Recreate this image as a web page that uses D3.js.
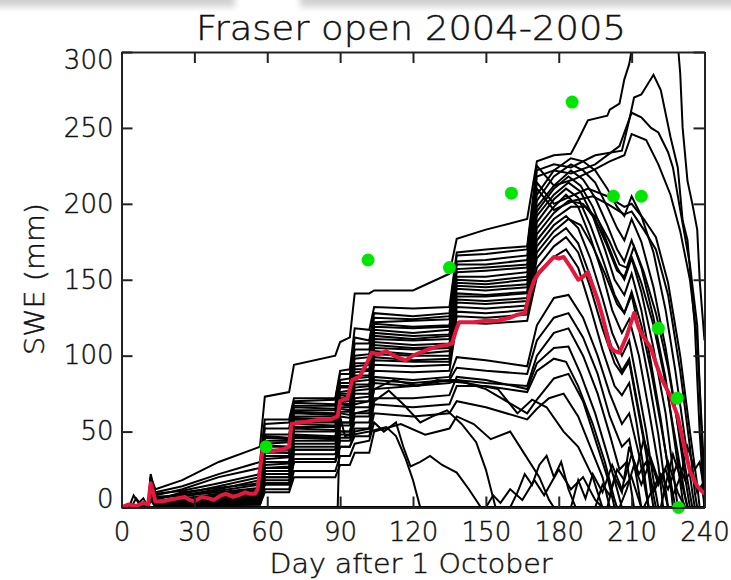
<!DOCTYPE html>
<html><head><meta charset="utf-8">
<script src="https://cdn.jsdelivr.net/npm/d3@7"></script>
<style>body{margin:0;background:#fff}</style>
</head><body>
<svg id="c" width="731" height="580"></svg>
<script>
// ---------- data ----------
const titleText = "Fraser open 2004-2005";
const xLabel = "Day after 1 October";
const yLabel = "SWE (mm)";
const xTicks = [0, 30, 60, 90, 120, 150, 180, 210, 240];
const yTicks = [0, 50, 100, 150, 200, 250, 300];

// days at which accumulation-phase levels of ensemble members are read
const accDays = [0, 11, 12, 14, 25, 40, 57, 59, 69, 71, 88, 90, 94, 96, 102, 104, 120, 135, 138, 150, 167, 171];

// main (high) ensemble members: levels at accDays
const bandAcc = [
  [0,0,20,12,18,30,40,73,76,94,100,109,112,141,141,143,143,154,177,183,190,228],
  [0,0,18,10,14,22,30,58,58,72,72,90,91,118,117,132,131,132,168,170,172,225],
  [0,0,16,8,12,20,26,55,56,70,71,88,88,112,110,128,126,128,166,167,170,222],
  [0,0,22,9,11,16,22,52,52,69,68,84,85,108,108,125,124,126,162,163,166,218],
  [0,0,15,6,9,14,20,48,48,67,67,82,82,104,104,122,123,124,160,160,163,214],
  [0,0,17,7,8,12,18,47,46,66,65,80,80,100,101,121,119,120,157,158,160,210],
  [0,0,19,5,10,13,16,46,45,64,64,79,79,98,99,119,118,119,155,156,158,206],
  [0,0,14,4,7,11,15,44,44,63,62,76,77,95,95,117,115,117,152,152,155,202],
  [0,0,20,6,8,10,13,42,43,62,61,75,75,93,94,115,113,114,150,149,152,198],
  [0,0,13,3,6,9,12,41,40,60,60,74,73,91,91,113,111,113,148,147,150,195],
  [0,0,18,4,5,8,11,40,40,59,58,72,72,89,90,111,110,111,146,145,147,192],
  [0,0,12,3,6,7,10,38,38,58,57,70,70,87,87,109,107,108,144,143,145,188],
  [0,0,16,2,4,6,9,37,36,56,56,69,68,85,86,107,105,106,141,140,142,184],
  [0,0,15,4,5,7,9,36,36,55,54,68,67,83,84,105,104,105,139,139,141,180],
  [0,0,14,3,5,6,8,34,34,53,53,66,66,81,81,103,101,103,137,136,138,176],
  [0,0,17,2,4,5,7,32,33,52,51,65,64,79,80,101,100,100,135,134,136,172],
  [0,0,11,2,3,5,6,30,30,50,50,63,63,77,78,99,97,98,132,131,133,168],
  [0,0,15,3,4,4,6,28,29,48,47,62,61,75,75,97,96,96,129,128,130,164],
  [0,0,13,1,3,4,5,26,27,47,46,60,59,72,73,94,93,94,126,125,127,158],
  [0,0,12,1,2,3,4,24,24,46,45,56,56,70,70,90,89,90,122,121,123,152]
];
// their spring (melt) phase, [day, SWE]
const bandMelt = [
  [[178,232],[185,233],[188,242],[192,255],[200,258],[201,262],[205,266],[207,282],[209,292],[211,310],[215,325],[228,325],[230,286],[231,250],[233,215],[235,200],[237,183],[238,150],[240,110]],
  [[178,212],[186,216],[194,222],[201,228],[207,232],[210,246],[216,242],[221,226],[226,206],[230,182],[234,150],[237,110],[239,50],[240,20]],
  [[178,226],[185,224],[195,232],[206,235],[209,255],[211,270],[214,272],[219,285],[222,275],[226,244],[229,224],[231,189],[233,176],[236,120],[238,50],[240,0]],
  [[178,222],[185,220],[195,226],[205,238],[210,260],[214,257],[218,250],[221,247],[225,234],[227,224],[230,196],[234,160],[237,120],[239,40],[240,0]],
  [[178,200],[185,205],[192,210],[200,205],[207,198],[210,200],[215,190],[220,178],[225,148],[230,100],[234,50],[237,15],[238,0]],
  [[178,196],[186,202],[194,205],[200,200],[207,193],[210,195],[215,183],[220,170],[225,140],[230,90],[234,40],[236,10],[237,0]],
  [[178,222],[185,230],[190,228],[195,222],[200,210],[204,198],[207,192],[210,205],[214,192],[219,168],[224,130],[228,90],[232,45],[235,10],[236,0]],
  [[178,218],[185,226],[190,222],[195,214],[200,198],[204,184],[207,176],[210,190],[214,175],[219,145],[224,105],[228,65],[232,20],[234,0]],
  [[178,212],[185,222],[190,216],[195,204],[200,186],[204,170],[207,162],[210,176],[214,158],[219,125],[224,85],[228,40],[231,5],[232,0]],
  [[178,210],[184,218],[189,212],[194,198],[199,178],[204,158],[207,150],[210,164],[214,142],[219,105],[224,62],[227,25],[229,0]],
  [[178,206],[184,214],[189,208],[194,192],[199,170],[203,150],[207,140],[210,154],[214,130],[218,95],[222,58],[226,15],[227,0]],
  [[178,203],[183,210],[188,204],[193,186],[198,164],[203,140],[207,128],[210,140],[213,118],[217,85],[221,48],[224,12],[225,0]],
  [[178,198],[183,206],[188,198],[193,178],[198,154],[202,130],[206,115],[209,124],[213,100],[217,65],[221,28],[223,0]],
  [[178,194],[184,202],[190,200],[195,190],[200,172],[204,156],[207,152],[210,165],[214,148],[219,120],[224,82],[228,45],[232,8],[233,0]],
  [[178,190],[185,198],[191,198],[196,190],[201,175],[205,160],[208,158],[211,172],[215,155],[220,128],[225,92],[229,55],[233,18],[235,0]],
  [[178,186],[183,192],[188,184],[193,164],[198,138],[202,115],[206,100],[209,110],[212,85],[216,50],[219,18],[221,0]],
  [[178,182],[184,190],[189,186],[194,172],[199,154],[204,134],[207,128],[210,142],[214,120],[218,90],[222,55],[226,18],[228,0]],
  [[178,178],[183,184],[188,174],[193,152],[198,126],[202,104],[206,90],[209,98],[212,72],[216,38],[219,8],[220,0]],
  [[178,172],[183,178],[188,168],[193,145],[198,118],[203,95],[206,88],[209,96],[212,70],[216,35],[218,10],[219,0]],
  [[178,165],[183,170],[188,158],[193,132],[198,104],[203,80],[206,74],[209,82],[212,56],[215,25],[217,0]]
];

// lower ensemble members: levels at accDays
const lowAcc = [
  [0,0,14,3,4,5,6,26,26,44,44,56,56,68,70,86,84,86,99,97,93,120],
  [0,0,12,2,3,4,5,24,24,42,42,54,54,66,66,84,82,84,92,90,88,110],
  [0,0,13,2,3,3,4,22,22,40,40,50,50,62,64,82,80,82,84,82,80,100],
  [0,0,11,1,2,3,3,20,20,38,38,48,48,60,60,78,80,84,84,78,62,71],
  [0,0,12,1,2,2,3,18,18,35,35,46,46,56,56,72,72,74,86,84,78,95],
  [0,0,10,1,1,2,2,16,16,32,32,44,44,52,52,68,66,68,80,80,76,90],
  [0,0,12,2,2,3,3,15,15,30,30,40,40,47,47,62,60,62,70,66,58,65]
];
const lowMelt = [
  [[178,138],[184,140],[190,125],[196,100],[201,75],[206,55],[209,62],[213,35],[217,0]],
  [[178,125],[184,128],[190,112],[196,88],[201,60],[206,40],[209,45],[212,20],[214,0]],
  [[178,115],[184,118],[190,100],[196,75],[201,48],[205,25],[208,30],[211,0]],
  [[178,85],[184,88],[190,70],[195,45],[200,20],[203,0]],
  [[178,105],[184,106],[189,88],[195,62],[200,35],[204,12],[206,0]],
  [[178,98],[183,96],[188,80],[194,55],[199,30],[203,5],[204,0]],
  [[176,72],[182,75],[188,60],[193,40],[198,20],[201,0]]
];

// members that melt out early or only get small spring snowfalls, [day, SWE]
const earlyMemberA = [[0,0],[3,0],[5,8],[7,3],[9,6],[11,0],[12,10],[14,2],[57,3],[59,16],[69,16],[71,30],[88,30],[90,40],[94,40],[96,50],[102,52],[104,70],[110,77],[116,68],[123,56],[128,60],[134,64],[140,55],[146,43],[150,25],[154,0],[240,0]];
const earlyMemberB = [[0,0],[4,0],[6,6],[8,2],[11,0],[12,8],[14,1],[57,2],[59,12],[69,12],[71,24],[88,24],[90,34],[94,34],[96,42],[102,44],[104,56],[108,50],[113,56],[116,40],[119,27],[123,30],[127,34],[132,28],[138,23],[143,12],[148,0],[240,0]];
const earlyMemberC = [[0,0],[89,0],[90,60],[92,47],[102,50],[109,53],[113,47],[117,32],[120,18],[123,0],[240,0]];
const earlyMemberD = [[0,0],[11,0],[12,9],[14,2],[57,4],[59,20],[69,20],[71,38],[88,38],[90,50],[94,50],[96,62],[102,62],[104,78],[112,84],[122,80],[130,84],[142,82],[155,78],[163,62],[169,71],[175,66],[182,50],[188,40],[194,20],[198,0],[240,0]];
const earlyMemberE = [[0,0],[11,0],[12,7],[14,1],[57,2],[59,10],[69,10],[71,20],[88,20],[90,28],[94,28],[96,36],[102,36],[104,50],[115,55],[125,48],[135,52],[138,60],[145,55],[152,45],[160,50],[166,35],[172,20],[176,5],[178,0],[240,0]];
const springMemberA = [[0,0],[11,0],[12,5],[14,0],[160,0],[163,10],[166,22],[169,15],[172,28],[175,34],[178,20],[181,30],[184,12],[187,0],[240,0]];
const springMemberB = [[0,0],[195,0],[198,15],[201,8],[204,25],[207,18],[210,35],[213,22],[216,30],[219,10],[222,20],[225,0],[240,0]];
const springMemberC = [[0,0],[205,0],[208,12],[211,28],[214,15],[218,32],[221,18],[224,25],[227,8],[230,20],[233,0],[240,0]];
const springMemberD = [[0,0],[215,0],[218,10],[222,22],[225,12],[229,30],[232,18],[235,25],[237,10],[239,15],[240,0]];
const springMemberE = [[0,0],[150,0],[153,8],[156,3],[160,12],[165,5],[170,18],[174,8],[180,25],[185,12],[190,20],[195,5],[198,0],[240,0]];
const springMemberF = [[0,0],[200,0],[203,20],[206,10],[209,40],[212,25],[215,45],[218,30],[221,15],[225,30],[229,10],[232,0],[240,0]];
const springMemberG = [[0,0],[185,0],[188,18],[191,6],[194,22],[198,10],[202,28],[206,12],[210,20],[214,0],[240,0]];
const springMemberH = [[0,0],[222,0],[224,15],[227,35],[230,20],[233,40],[236,25],[238,30],[240,10]];

// ensemble mean (red)
const meanDays = [0,3,6,9,11,12,13,14,17,20,23,26,28,30,33,36,38,41,43,46,48,51,53,55,56,57,58,62,66,69,70,74,78,82,86,89,90,93,95,98,101,103,106,109,112,115,117,120,123,126,130,134,136,138,139,145,150,155,157,160,163,166,168,170,172,175,178,180,182,185,188,190,192,194,196,198,201,203,205,208,211,213,215,218,220,222,226,229,231,234,237,240];
const meanSwe  = [0,2,1,3,2,16,10,4,4,5,6,7,5,4,7,6,5,8,9,7,8,10,9,9,12,25,37,37,38,40,55,56,57,58,58,60,70,72,84,86,95,102,101,103,100,98,97,100,102,104,106,107,108,118,122,122,123,123,124,125,127,128,141,150,155,160,165,164,165,158,150,152,155,146,137,126,106,103,102,113,128,118,112,105,95,86,73,60,45,24,14,9];

// observations (green)
const obsDays = [59.5, 101.5, 135, 160.5, 185.5, 202.5, 214, 221, 228.8, 229.3];
const obsSwe  = [40, 163, 158, 207, 267, 205, 205, 118, 72, 0];

// ---------- drawing ----------
const W = 731, H = 580;
const m = {l: 121.5, r: 704.5, t: 52, b: 507.5};
const FONT = "'DejaVu Sans', sans-serif";
const FW = 200;
const INK = '#111';
const x = d3.scaleLinear().domain([0, 240]).range([m.l, m.r]);
const y = d3.scaleLinear().domain([0, 300]).range([m.b, m.t]);

const svg = d3.select('#c');
svg.append('rect').attr('width', W).attr('height', H).attr('fill', '#fff');
const defs = svg.append('defs');
defs.append('clipPath').attr('id', 'clip').append('rect')
  .attr('x', m.l).attr('y', m.t).attr('width', m.r - m.l).attr('height', m.b - m.t);
defs.append('filter').attr('id', 'blur').attr('x', '-10%').attr('y', '-100%').attr('width', '120%').attr('height', '300%')
  .append('feGaussianBlur').attr('stdDeviation', 3);

// faint scan artefact at the top edge
svg.append('rect').attr('x', -10).attr('y', -8).attr('width', 245).attr('height', 15).attr('fill', '#d2d2d2').attr('filter', 'url(#blur)');
svg.append('rect').attr('x', 300).attr('y', -8).attr('width', 445).attr('height', 15).attr('fill', '#d2d2d2').attr('filter', 'url(#blur)');

const members = [];
bandAcc.forEach((row, i) => members.push(accDays.map((d, j) => [d, row[j]]).concat(bandMelt[i])));
lowAcc.forEach((row, i) => members.push(accDays.map((d, j) => [d, row[j]]).concat(lowMelt[i])));
[earlyMemberA, earlyMemberB, earlyMemberC, earlyMemberD, earlyMemberE,
 springMemberA, springMemberB, springMemberC, springMemberD, springMemberE,
 springMemberF, springMemberG, springMemberH].forEach(p => members.push(p));

const line = d3.line().x(d => x(d[0])).y(d => y(d[1]));
const plot = svg.append('g').attr('clip-path', 'url(#clip)');
plot.selectAll('path.member').data(members).join('path')
  .attr('class', 'member').attr('d', line)
  .attr('fill', 'none').attr('stroke', '#000').attr('stroke-width', 2);

plot.append('path').datum(meanDays.map((d, i) => [d, meanSwe[i]]))
  .attr('d', line).attr('fill', 'none').attr('stroke', '#e6173c')
  .attr('stroke-width', 4).attr('stroke-linejoin', 'round');

svg.append('g').selectAll('circle').data(obsDays.map((d, i) => [d, obsSwe[i]])).join('circle')
  .attr('cx', d => x(d[0])).attr('cy', d => y(d[1])).attr('r', 6.5).attr('fill', '#00e600');

// text look: thin strokes like the original plotting font
function thinText(sel) {
  sel.attr('font-family', FONT).attr('font-weight', FW).attr('fill', INK)
     .attr('stroke', INK).attr('stroke-width', 0.45);
}
// axes (ticks point inward on all four sides)
function styleAxis(g) {
  g.attr('font-size', 26);
  g.select('.domain').attr('stroke', '#222').attr('stroke-width', 2);
  g.selectAll('.tick line').attr('stroke', '#222').attr('stroke-width', 2);
  g.selectAll('.tick text').call(thinText);
}
const yAxisG = svg.append('g').attr('transform', `translate(${m.l},0)`)
  .call(d3.axisLeft(y).tickValues(yTicks).tickSizeInner(-11).tickSizeOuter(0).tickPadding(8))
  .call(styleAxis);
// extreme labels sit slightly inside the frame, as in the reference
yAxisG.selectAll('.tick text').attr('dy', d => d === 300 ? '0.62em' : d === 0 ? '0.0em' : '0.32em');
svg.append('g').attr('transform', `translate(${m.r},0)`)
  .call(d3.axisRight(y).tickValues(yTicks).tickSizeInner(-11).tickSizeOuter(0).tickFormat(''))
  .call(styleAxis);
svg.append('g').attr('transform', `translate(0,${m.b})`)
  .call(d3.axisBottom(x).tickValues(xTicks).tickSizeInner(-11).tickSizeOuter(0).tickPadding(15))
  .call(styleAxis);
svg.append('g').attr('transform', `translate(0,${m.t})`)
  .call(d3.axisTop(x).tickValues(xTicks).tickSizeInner(-11).tickSizeOuter(0).tickFormat(''))
  .call(styleAxis);

svg.append('text').attr('x', 411).attr('y', 40)
  .attr('text-anchor', 'middle').attr('font-size', 34)
  .attr('textLength', 430).attr('lengthAdjust', 'spacingAndGlyphs')
  .call(thinText).text(titleText);
svg.append('text').attr('x', 411).attr('y', 573)
  .attr('text-anchor', 'middle').attr('font-size', 26)
  .attr('textLength', 283).attr('lengthAdjust', 'spacingAndGlyphs')
  .call(thinText).text(xLabel);
svg.append('text').attr('transform', 'translate(44,279) rotate(-90)')
  .attr('text-anchor', 'middle').attr('font-size', 26)
  .attr('textLength', 152).attr('lengthAdjust', 'spacingAndGlyphs')
  .call(thinText).text(yLabel);
</script>
</body></html>
